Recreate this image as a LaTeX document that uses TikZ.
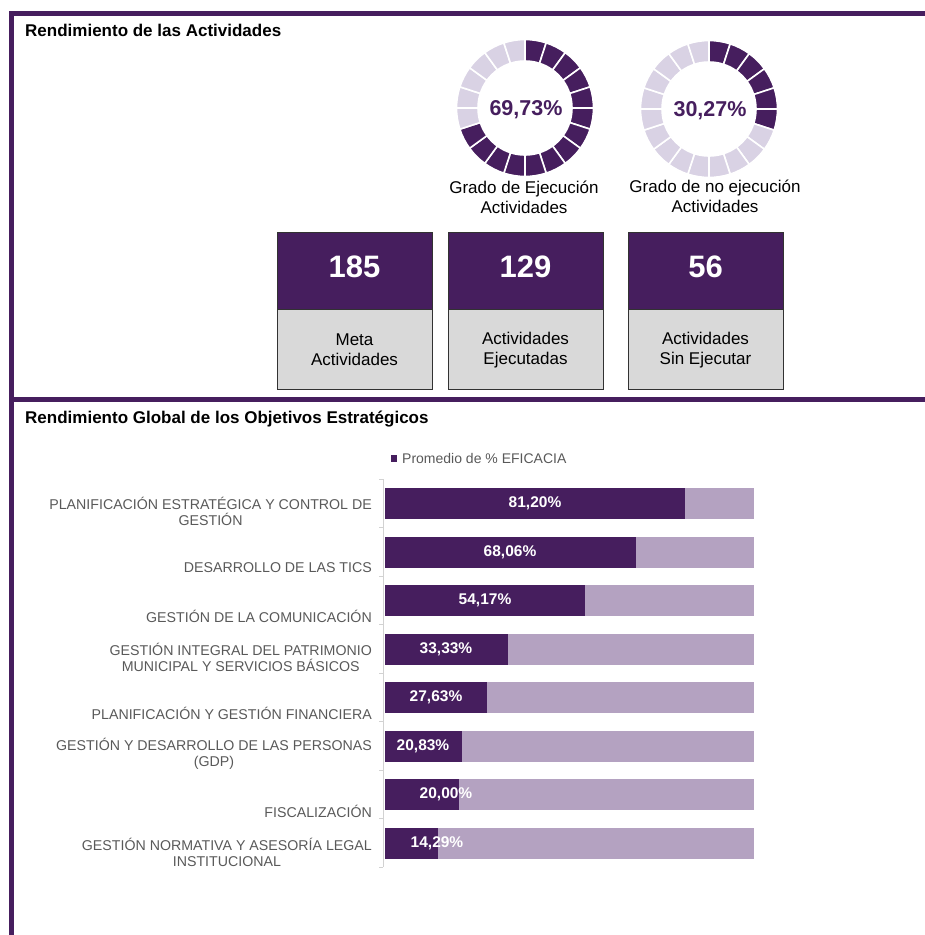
\documentclass[tikz,border=0pt]{standalone}
\usepackage{fontspec}
\setmainfont{Liberation Sans}
\definecolor{purp}{RGB}{70,30,94}
\definecolor{ringlight}{RGB}{217,210,228}
\definecolor{barlight}{RGB}{180,162,193}
\definecolor{boxgray}{RGB}{217,217,217}
\definecolor{boxline}{RGB}{50,50,50}
\definecolor{labgray}{RGB}{89,89,89}
\definecolor{axisgray}{RGB}{210,210,210}
\begin{document}
\begin{tikzpicture}[x=1pt, y=-1pt,
    title/.style={anchor=base west, inner sep=0, font=\fontsize{17}{20}\selectfont\bfseries},
    caption/.style={align=center, inner sep=0, font=\fontsize{17}{20}\selectfont},
    ringtxt/.style={inner sep=0, text=purp, font=\fontsize{21.5}{24}\selectfont\bfseries},
    num/.style={inner sep=0, text=white, font=\fontsize{31}{34}\selectfont\bfseries},
    pct/.style={inner sep=0, text=white, font=\fontsize{15.5}{18}\selectfont\bfseries},
    cat/.style={anchor=east, align=center, inner sep=0, text=labgray, font=\fontsize{14.2}{15.5}\selectfont}]
  \useasboundingbox (0,0) rectangle (925,935);
  % frame
  \draw[purp, line width=5] (11.5,935) -- (11.5,13.5) -- (925,13.5);
  \draw[purp, line width=5] (11.5,399.5) -- (925,399.5);
  \node[title] (top) at (25,36.5) {Rendimiento de las Actividades};
  \node[title] (bottom) at (25,423.5) {Rendimiento Global de los Objetivos Estratégicos};
  % rings
  \foreach \cx/\cy/\n in {525/108/14, 709/109/6}
    \foreach \i in {0,...,19} {
      \ifnum\i<\n \def\segcol{purp}\else\def\segcol{ringlight}\fi
      \filldraw[fill=\segcol, draw=white, line width=1.6, shift={(\cx,\cy)}]
        ({-90+18*\i}:47) arc[start angle={-90+18*\i}, delta angle=18, radius=47]
        -- ({-72+18*\i}:68.5) arc[start angle={-72+18*\i}, delta angle=-18, radius=68.5] -- cycle;
    }
  \node[ringtxt] (done) at (526,110) {69,73\%};
  \node[ringtxt] (undone) at (710,111) {30,27\%};
  \node[caption] (donecap) at (524,197.5) {Grado de Ejecución\\Actividades};
  \node[caption] (undonecap) at (715,196.5) {Grado de no ejecución\\Actividades};
  % boxes
  \foreach \x/\v/\lab [count=\k] in {277/185/{Meta\\Actividades}, 448/129/{Actividades\\Ejecutadas}, 628/56/{Actividades\\Sin Ejecutar}} {
    \draw[fill=purp, draw=boxline] (\x,232) rectangle (\x+155,309);
    \draw[fill=boxgray, draw=boxline] (\x,309) rectangle (\x+155,389);
    \node[num] (n\k) at (\x+77.5,267) {\v};
    \node[caption] (b\k) at (\x+77.5,350) {\lab};
  }
  % bar chart
  \fill[purp] (391,455) rectangle (397,462);
  \node[anchor=west, inner sep=0, text=labgray, font=\fontsize{14}{16}\selectfont] (legend) at (402,458.5) {Promedio de \% EFICACIA};
  \draw[axisgray] (383,479) -- (383,867);
  \foreach \k in {0,...,8}
    \draw[axisgray] (379,479+48.5*\k) -- (383,479+48.5*\k);
  \foreach \v/\lx/\txt/\ly/\lab [count=\k from 0] in {
      81.20/535/{81,20}/511.5/{PLANIFICACIÓN ESTRATÉGICA Y CONTROL DE\\GESTIÓN},
      68.06/510/{68,06}/568/{DESARROLLO DE LAS TICS},
      54.17/485/{54,17}/616/{GESTIÓN DE LA COMUNICACIÓN},
      33.33/446/{33,33}/657.5/{GESTIÓN INTEGRAL DEL PATRIMONIO\\MUNICIPAL Y SERVICIOS BÁSICOS},
      27.63/436/{27,63}/713/{PLANIFICACIÓN Y GESTIÓN FINANCIERA},
      20.83/423/{20,83}/754/{GESTIÓN Y DESARROLLO DE LAS PERSONAS\\(GDP)},
      20.00/446/{20,00}/811/{FISCALIZACIÓN},
      14.29/437/{14,29}/852.5/{GESTIÓN NORMATIVA Y ASESORÍA LEGAL\\INSTITUCIONAL}} {
    \pgfmathsetmacro\yc{503.5+48.5*\k}
    \fill[barlight] (385,\yc-15.5) rectangle (754,\yc+15.5);
    \fill[purp] (385,\yc-15.5) rectangle ({385+3.69*\v},\yc+15.5);
    \node[pct] (p\k) at (\lx,\yc) {\txt\%};
    \node[cat] (cat\k) at (372,\ly) {\lab};
  }
\end{tikzpicture}
\end{document}
